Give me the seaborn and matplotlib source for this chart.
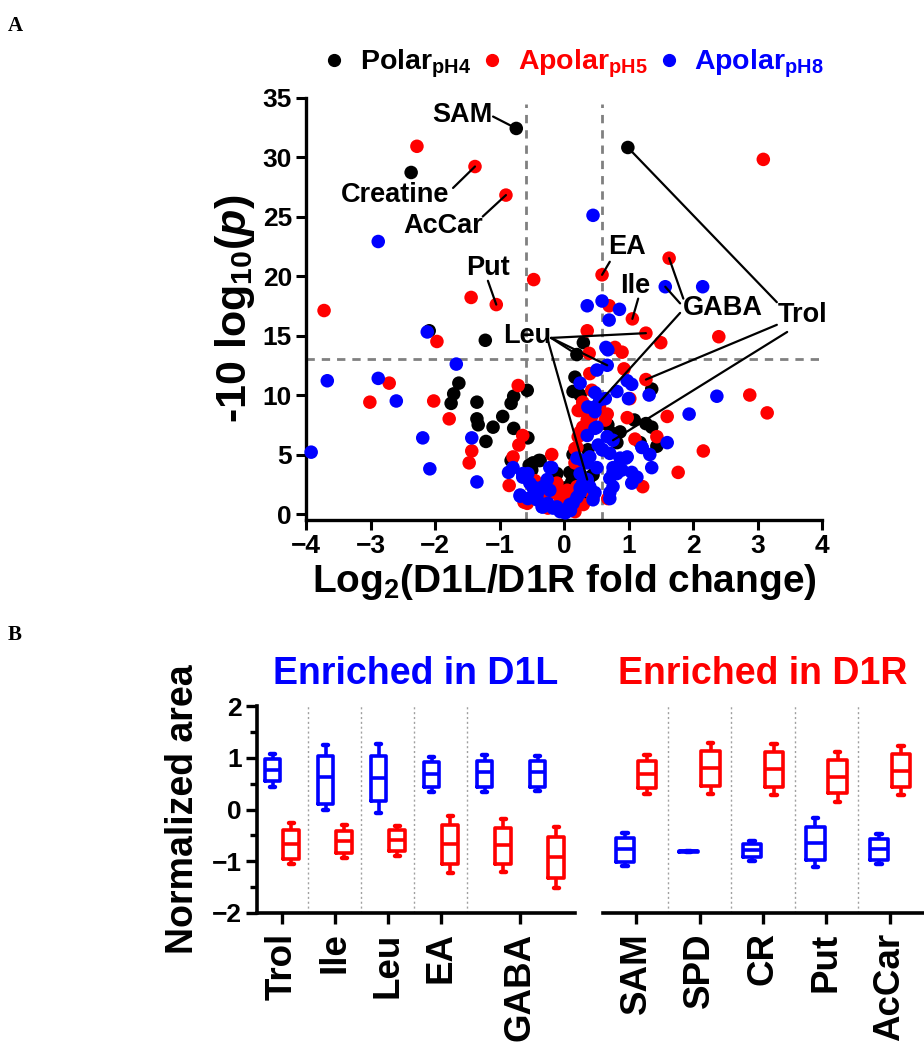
import matplotlib
matplotlib.use('Agg')
import matplotlib.pyplot as plt
from matplotlib.lines import Line2D
import seaborn as sns
import pandas as pd

# ---------------- volcano data (log2 fold change, -10 log10 p) ----------------
# first entries of each series are the annotated metabolites
polar_x = [-0.74, 0.99, 0.20, 0.55,
           -2.37, -2.09, -1.22, 0.30, -1.63, -1.71, -1.75, -1.35, -1.35, -1.33,
           -1.21, -1.10, -0.95, -0.82, -0.78, -0.57, -0.78, -0.56, -0.82, -0.54,
           -0.39, -0.50, -0.14, -0.48, -0.37, -0.11, 0.09, 0.12, 0.14, 0.40,
           0.17, 0.20, 0.25, 0.14, 1.36, 1.27, 1.36, 1.44, 1.18, 1.09, 0.68,
           0.87, 0.82, 0.74, 0.37, 0.45, -0.25, 0.02, 0.30]
polar_y = [32.4, 30.8, 13.4, 9.4,
           28.7, 15.4, 14.6, 14.4, 11.0, 10.1, 9.3, 9.4, 8.0, 7.5,
           6.1, 7.3, 8.2, 9.3, 9.9, 10.4, 7.2, 6.4, 4.5, 4.1,
           4.5, 3.7, 3.1, 4.3, 4.5, 3.4, 3.5, 2.7, 5.0, 3.1,
           11.5, 10.3, 10.0, 10.3, 10.5, 7.6, 7.3, 5.7, 6.0, 7.9, 7.5,
           6.9, 6.0, 6.8, 5.4, 3.3, 2.8, 2.2, 1.8]

apolar5_x = [-1.38, -0.90, -1.05, 0.59, 1.06, 1.63, 1.27, 1.27,
             -2.28, 3.09, -0.47, -1.44, -3.72, -1.97, 0.70, 0.36, 1.50, 2.40,
             0.79, 0.90, 0.39, -3.01, -2.71, -2.02, -1.78, -1.43, -1.47, -0.71,
             -0.64, -0.70, -0.79, -0.85, -0.19, 2.88, 3.15, 1.60, 2.16, 1.77,
             1.22, 1.44, 0.98, 1.02, 0.93, 0.40, 0.43, 0.29, 0.67, 0.43, 0.29,
             0.25, 0.17, 0.20, 0.68, 0.36, 0.40, 0.22, 0.64, 0.25, -0.26,
             -0.11, -0.06, 0.05, 0.09, 0.17, -0.57, -0.37, -0.11, 0.05, -0.33,
             -0.06, 0.20, 0.17, 0.20, 0.22, -0.45, -0.25, 0.10, 0.35, 0.45,
             0.30, -0.15, 0.00, 1.10, 0.55, -0.62]
apolar5_y = [29.2, 26.8, 17.6, 20.1, 16.4, 21.5, 15.2, 11.3,
             30.9, 29.8, 19.7, 18.2, 17.1, 14.5, 17.5, 15.4, 14.4, 14.9,
             14.0, 13.6, 13.5, 9.4, 11.0, 9.5, 8.0, 5.3, 4.3, 10.8,
             6.6, 5.8, 4.8, 2.4, 5.0, 10.0, 8.5, 8.2, 5.3, 3.5,
             2.3, 6.5, 8.1, 9.7, 12.2, 11.8, 10.4, 9.4, 8.4, 8.2, 7.3,
             6.9, 5.5, 4.5, 1.3, 7.9, 7.2, 6.5, 7.9, 8.7, 2.0,
             1.9, 1.4, 1.4, 0.9, 0.2, 0.9, 1.4, 2.6, 2.0, 1.2,
             0.9, 2.3, 4.3, 5.6, 8.7, 2.8, 0.5, 1.9, 2.0, 1.4,
             0.8, 1.8, 0.6, 6.3, 9.0, 1.0]

apolar8_x = [1.57, 0.67, 0.36, 0.76,
             -2.88, -2.12, 0.45, 2.15, 0.36, 0.59, 0.86, 0.70, 0.65,
             -3.92, -3.67, -2.88, -2.60, -1.67, -2.19, -2.08, -1.43, -1.35,
             -0.86, -0.79, -0.68, -0.64, -0.56, -0.22, -0.19,
             1.32, 2.37, 1.94, 1.60, 1.36, 1.05, 1.21, 1.33, 1.00, 0.82, 0.98,
             1.05, 0.51, 0.25, 0.48, 0.64, 0.37, 0.48, 0.51, 0.36, 0.67, 0.53,
             0.60, 0.36, 0.87, 0.96, 0.76, 0.90, 0.71, 0.71, 0.28, 0.56, 0.48,
             -0.64, -0.53, -0.48, -0.68, -0.56, -0.42, -0.40, -0.33, -0.26,
             -0.34, -0.25, -0.17, -0.06, 0.02, 0.06, 0.14, 0.20, 0.25, 0.29,
             0.40, 0.48, 0.45, 0.25, 0.51, 0.71, 0.59, 0.25, 0.29, 0.40,
             0.48, 0.76, 0.82, 0.76, 0.71, 0.98, 1.05, 1.13, 1.21, -0.48,
             -0.42, -0.33, -0.22, -0.11, -0.02, 0.09, 0.20, 0.68, 0.10]
apolar8_y = [19.1, 12.5, 2.9, 6.2,
             22.9, 15.3, 25.1, 19.1, 17.5, 17.9, 17.2, 16.3, 14.0,
             5.2, 11.2, 11.4, 9.5, 12.6, 6.4, 3.8, 6.4, 2.7,
             3.5, 3.9, 1.5, 3.1, 3.4, 3.9, 3.9,
             10.0, 9.9, 8.4, 6.0, 3.9, 2.6, 5.6, 5.0, 9.7, 10.3, 11.2,
             10.9, 12.1, 11.0, 10.2, 9.7, 9.0, 8.6, 7.3, 6.6, 6.5, 5.8,
             5.4, 4.3, 4.7, 4.7, 3.5, 3.7, 3.0, 1.8, 2.3, 9.6, 7.2,
             3.4, 2.6, 2.2, 1.6, 1.3, 1.2, 1.9, 2.3, 2.9,
             0.6, 0.9, 0.5, 0.2, 0.1, 0.5, 0.9, 1.4, 2.2, 2.6,
             2.3, 1.8, 1.2, 3.4, 3.9, 5.1, 5.4, 1.8, 4.5, 4.8,
             9.0, 3.9, 3.4, 2.3, 1.3, 4.8, 3.5, 3.1, 5.6, 2.3,
             1.4, 0.6, 2.0, 0.6, 0.2, 0.8, 4.7, 13.8, 0.3]

series_names = ['Polar', 'Apolar5', 'Apolar8']
series_labels = ['Polar$_{pH4}$', 'Apolar$_{pH5}$', 'Apolar$_{pH8}$']
series_colors = ['black', 'red', 'blue']

# ---------------- box data: min, q1, median, q3, max ----------------
left_mets = ['Trol', 'Ile', 'Leu', 'EA', 'GABA a', 'GABA b']
left_d1l = [[0.44, 0.55, 0.76, 0.97, 1.07], [0.00, 0.10, 0.62, 1.04, 1.25],
            [-0.06, 0.16, 0.60, 1.04, 1.26], [0.34, 0.44, 0.68, 0.91, 1.02],
            [0.34, 0.44, 0.72, 0.94, 1.06], [0.35, 0.44, 0.72, 0.94, 1.04]]
left_d1r = [[-1.06, -0.95, -0.66, -0.40, -0.27], [-0.94, -0.84, -0.61, -0.41, -0.30],
            [-0.90, -0.81, -0.59, -0.40, -0.32], [-1.23, -1.05, -0.67, -0.30, -0.13],
            [-1.21, -1.05, -0.69, -0.35, -0.19], [-1.51, -1.32, -0.92, -0.53, -0.34]]
left_ticks = [0, 1, 2, 3, 4.5]
left_ticklabels = ['Trol', 'Ile', 'Leu', 'EA', 'GABA']

right_mets = ['SAM', 'SPD', 'CR', 'Put', 'AcCar']
right_d1l = [[-1.10, -1.01, -0.77, -0.55, -0.45], [-0.82, -0.815, -0.81, -0.805, -0.80],
             [-0.99, -0.92, -0.78, -0.66, -0.60], [-1.12, -0.97, -0.65, -0.33, -0.17],
             [-1.05, -0.97, -0.76, -0.57, -0.47]]
right_d1r = [[0.29, 0.41, 0.69, 0.94, 1.06], [0.30, 0.45, 0.80, 1.14, 1.29],
             [0.28, 0.43, 0.79, 1.11, 1.27], [0.15, 0.32, 0.63, 0.96, 1.11],
             [0.28, 0.43, 0.75, 1.07, 1.22]]

sns.set_style('ticks', {'axes.edgecolor': 'black', 'text.color': 'black',
                        'xtick.color': 'black', 'ytick.color': 'black',
                        'axes.labelcolor': 'black'})
plt.rcParams['font.family'] = ['Liberation Sans', 'DejaVu Sans']
plt.rcParams['font.weight'] = 'bold'
plt.rcParams['axes.labelweight'] = 'bold'
plt.rcParams['mathtext.fontset'] = 'custom'
plt.rcParams['mathtext.default'] = 'regular'
plt.rcParams['mathtext.it'] = 'Liberation Sans:italic:bold'
plt.rcParams['mathtext.rm'] = 'Liberation Sans:bold'

fig = plt.figure(figsize=(9.24, 10.5), dpi=100)

# ---------------- panel A: volcano ----------------
ax = fig.add_axes([306 / 924, 1 - 520 / 1050, 516 / 924, 422.5 / 1050])
vol = pd.concat([
    pd.DataFrame({'fc': polar_x, 'p': polar_y, 'set': 'Polar'}),
    pd.DataFrame({'fc': apolar5_x, 'p': apolar5_y, 'set': 'Apolar5'}),
    pd.DataFrame({'fc': apolar8_x, 'p': apolar8_y, 'set': 'Apolar8'}),
], ignore_index=True)
sns.scatterplot(data=vol, x='fc', y='p', hue='set', hue_order=series_names,
                palette=dict(zip(series_names, series_colors)), s=95,
                linewidth=0, legend=False, clip_on=False, zorder=3, ax=ax)

ax.axvline(-0.585, ymax=0.985, color='#808080', ls=(0, (3, 2.5)), lw=2, zorder=1)
ax.axvline(0.585, ymax=0.985, color='#808080', ls=(0, (3, 2.5)), lw=2, zorder=1)
ax.axhline(13.0, color='#808080', ls=(0, (3, 2.5)), lw=2, zorder=1)

ax.set_xlim(-4, 4)
ax.set_ylim(-0.5, 35)
ax.set_xticks(range(-4, 5))
ax.set_yticks(range(0, 36, 5))
ax.tick_params(labelsize=19, width=2.2, length=7, pad=3)
for lab in ax.get_xticklabels() + ax.get_yticklabels():
    lab.set_fontweight('bold')
for sp in ['left', 'bottom']:
    ax.spines[sp].set_linewidth(2.4)
sns.despine(ax=ax)
ax.set_xlabel('Log$_{2}$(D1L/D1R fold change)', fontsize=28, labelpad=3)
ax.set_ylabel('-10 log$_{10}$($\\mathit{p}$)', fontsize=31, labelpad=4)

# annotations: label text, text position, line start, targets (series, index)
pts = {'Polar': (polar_x, polar_y), 'Apolar5': (apolar5_x, apolar5_y),
       'Apolar8': (apolar8_x, apolar8_y)}
notes = [
    ('SAM', (-1.57, 33.5), [((-1.1, 33.4), 'Polar', 0)]),
    ('Creatine', (-2.62, 26.8), [((-1.72, 27.4), 'Apolar5', 0)]),
    ('AcCar', (-1.88, 24.2), [((-1.26, 25.0), 'Apolar5', 1)]),
    ('Put', (-1.18, 20.7), [((-1.18, 19.6), 'Apolar5', 2)]),
    ('Leu', (-0.57, 15.0), [((-0.2, 14.8), 'Apolar5', 6), ((-0.2, 14.8), 'Polar', 2),
                            ((-0.2, 14.8), 'Apolar8', 1), ((-0.25, 14.6), 'Apolar8', 2)]),
    ('EA', (0.98, 22.4), [((0.71, 21.2), 'Apolar5', 3)]),
    ('Ile', (1.1, 19.2), [((1.15, 18.1), 'Apolar5', 4)]),
    ('GABA', (2.47, 17.3), [((1.85, 18.1), 'Apolar5', 5), ((1.8, 17.7), 'Apolar8', 0),
                            ((1.8, 16.9), 'Polar', 3)]),
    ('Trol', (3.7, 16.7), [((3.3, 17.8), 'Polar', 1), ((3.3, 15.9), 'Apolar5', 7),
                           ((3.46, 15.3), 'Apolar8', 3)]),
]
for text, pos, links in notes:
    ax.text(pos[0], pos[1], text, fontsize=19.5, fontweight='bold',
            ha='center', va='center', zorder=5)
    for start, key, idx in links:
        xs, ys = pts[key]
        ax.annotate('', xy=(xs[idx], ys[idx]), xytext=start,
                    arrowprops=dict(arrowstyle='-', lw=1.6, color='black',
                                    shrinkA=0, shrinkB=0), zorder=4)

handles = [Line2D([], [], ls='', marker='o', markersize=8.5, color=c) for c in series_colors]
leg = ax.legend(handles, series_labels, loc='lower center', bbox_to_anchor=(0.515, 1.0),
                ncol=3, frameon=False, fontsize=20.5, handletextpad=0.4,
                columnspacing=0.25, handlelength=1.0, borderaxespad=0.2)
for t, c in zip(leg.get_texts(), series_colors):
    t.set_color(c)
    t.set_fontweight('bold')

# ---------------- panel B: box plots ----------------
def long_frame(mets, d1l, d1r):
    rows = []
    for m, a, b in zip(mets, d1l, d1r):
        rows += [(m, 'D1L', v) for v in a]
        rows += [(m, 'D1R', v) for v in b]
    return pd.DataFrame(rows, columns=['met', 'side', 'val'])


box_kw = dict(x='met', y='val', hue='side', hue_order=['D1L', 'D1R'],
              palette={'D1L': 'blue', 'D1R': 'red'}, fill=False, width=0.7,
              gap=0.17, whis=(0, 100), linewidth=2.6, legend=False,
              capwidths=0.09, capprops={'linewidth': 3.2, 'solid_capstyle': 'round'})

axl = fig.add_axes([257 / 924, 1 - 913 / 1050, 318 / 924, 207 / 1050])
axr = fig.add_axes([603 / 924, 1 - 913 / 1050, 320 / 924, 207 / 1050])
sns.boxplot(data=long_frame(left_mets, left_d1l, left_d1r), order=left_mets, ax=axl, **box_kw)
sns.boxplot(data=long_frame(right_mets, right_d1l, right_d1r), order=right_mets, ax=axr, **box_kw)

axl.set_xlim(-0.47, 5.53)
axr.set_xlim(-0.52, 4.52)
for a in (axl, axr):
    a.set_ylim(-2, 2)
    for sx in (0.5, 1.5, 2.5, 3.5):
        a.axvline(sx, color='#a0a0a0', ls=(0, (1.5, 2)), lw=1, zorder=0)
    a.set_xlabel('')
    a.spines['bottom'].set_linewidth(2.6)
    a.tick_params(axis='x', width=2.4, length=8, labelsize=26.5, pad=6)

axl.set_xticks(left_ticks)
axl.set_xticklabels(left_ticklabels, rotation=90, fontweight='bold')
axr.set_xticks(range(len(right_mets)))
axr.set_xticklabels(right_mets, rotation=90, fontweight='bold')

axl.set_yticks([-2, -1, 0, 1, 2])
axl.set_yticks([-1.5, -0.5, 0.5, 1.5], minor=True)
axl.tick_params(axis='y', which='major', width=2.4, length=8, labelsize=19, pad=3)
axl.tick_params(axis='y', which='minor', width=2.4, length=5)
for lab in axl.get_yticklabels():
    lab.set_fontweight('bold')
axl.spines['left'].set_linewidth(2.6)
axl.set_ylabel('Normalized area', fontsize=27, labelpad=8)
sns.despine(ax=axl)
sns.despine(ax=axr, left=True)
axr.set_yticks([])
axr.set_ylabel('')

fig.text((257 + 575) / 2 / 924, 1 - 674 / 1050, 'Enriched in D1L', color='blue',
         fontsize=27, fontweight='bold', ha='center', va='center')
fig.text((603 + 923) / 2 / 924, 1 - 674 / 1050, 'Enriched in D1R', color='red',
         fontsize=27, fontweight='bold', ha='center', va='center')

fig.text(0.008, 0.985, 'A', family='Liberation Serif', fontsize=15, fontweight='bold', va='top')
fig.text(0.008, 1 - 625 / 1050, 'B', family='Liberation Serif', fontsize=15, fontweight='bold', va='top')

fig.savefig('out.png', dpi=100)
